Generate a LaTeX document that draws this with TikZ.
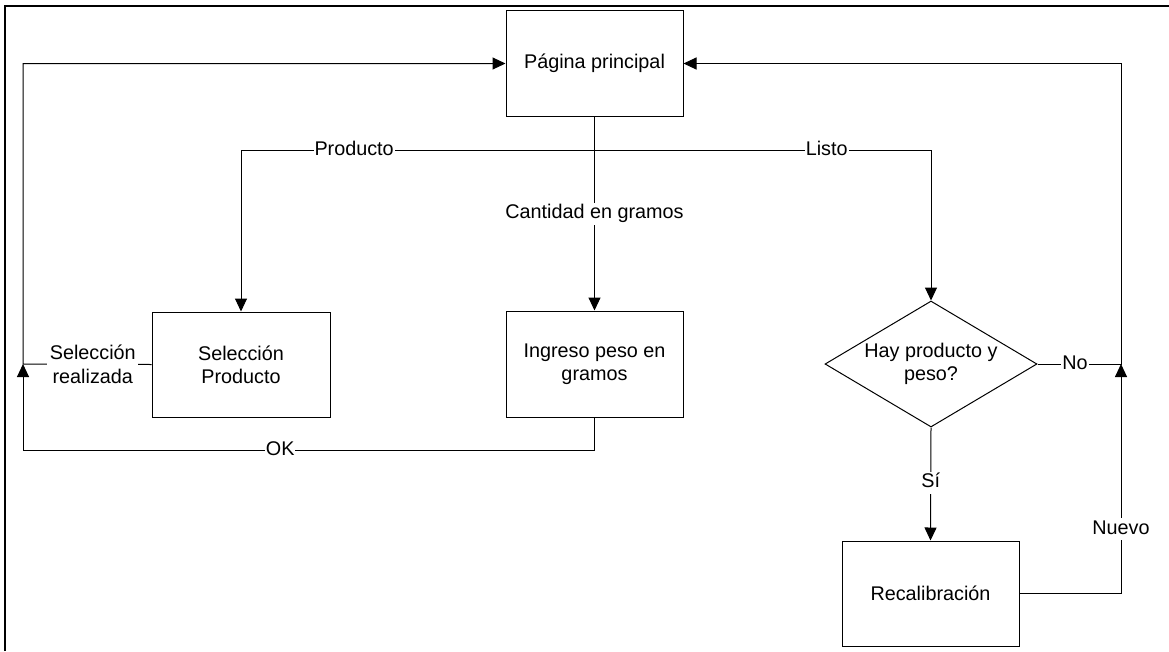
\documentclass[tikz,border=0pt]{standalone}
\usepackage{fontspec}
\setmainfont{Liberation Sans}
\usetikzlibrary{arrows.meta,shapes.geometric}

\begin{document}
\begin{tikzpicture}[x=1pt,y=-1pt,
  txt/.style={font=\fontsize{19.8pt}{23.3pt}\selectfont},
  box/.style={txt,draw,line width=1pt,rectangle,align=center,
    minimum width=177pt,minimum height=106pt,inner sep=0pt},
  decision/.style={draw,line width=1pt,diamond,inner sep=0pt,
    minimum width=212pt,minimum height=126pt},
  conn/.style={line width=1pt},
  arr/.style={conn,-{Triangle[length=13pt,width=12pt]}},
  lbl/.style={txt,fill=white,inner xsep=1pt,inner ysep=2pt,
    text height=14pt,text depth=4pt,align=center}]

\useasboundingbox (0,0) rectangle (1169,651);

% page frame (top and left edges)
\draw[line width=2.2pt] (4.6,651) -- (4.6,5.6) -- (1169,5.6);

% process steps
\node[box] (pag) at (594.5,63.5) {Página principal};
\node[box,minimum width=178pt,minimum height=105pt] (sel) at (241,364.5) {Selección\\Producto};
\node[box] (ing) at (594.5,364) {Ingreso peso en\\gramos};
\node[decision,label={[txt,align=center]center:Hay producto y\\peso?}] (dec) at (931,364) {};
\node[box,minimum height=105pt] (rec) at (930.5,593.5) {Recalibración};

% junction points of the return loops
\coordinate (fork) at (594.5,150);
\coordinate (ljoin) at (23,364);
\coordinate (rjoin) at (1121,364);

% menu choices from the main page
\draw[arr] (pag.south) -- node[lbl,pos=0.5] {Cantidad en gramos} (ing.north);
\draw[arr] (fork) -- node[lbl,pos=0.68] {Producto} (fork -| sel.north) -- (sel.north);
\draw[arr] (fork) -- node[lbl,pos=0.69] {Listo} (fork -| dec.north) -- (dec.north);

% left return loop
\draw[arr] (sel.west) -- node[lbl,text height=,text depth=,inner xsep=2.5pt,pos=0.457] {Selección\\realizada} (ljoin)
  -- (ljoin |- pag.west) -- (pag.west);
\draw[arr] (ing.south) -- (ing.south |- 0,450) -- node[lbl,pos=0.55] {OK} (ljoin |- 0,450) -- (ljoin);

% right return loop
\draw[arr] (dec.east) -- node[lbl,pos=0.45] {No} (rjoin) -- (rjoin |- pag.east) -- (pag.east);
\draw[arr] (dec.south) -- node[lbl,pos=0.49] {Sí} (rec.north);
\draw[arr] (rec.east) -- (rec.east -| rjoin) -- node[lbl,pos=0.28] {Nuevo} (rjoin);

\end{tikzpicture}
\end{document}
